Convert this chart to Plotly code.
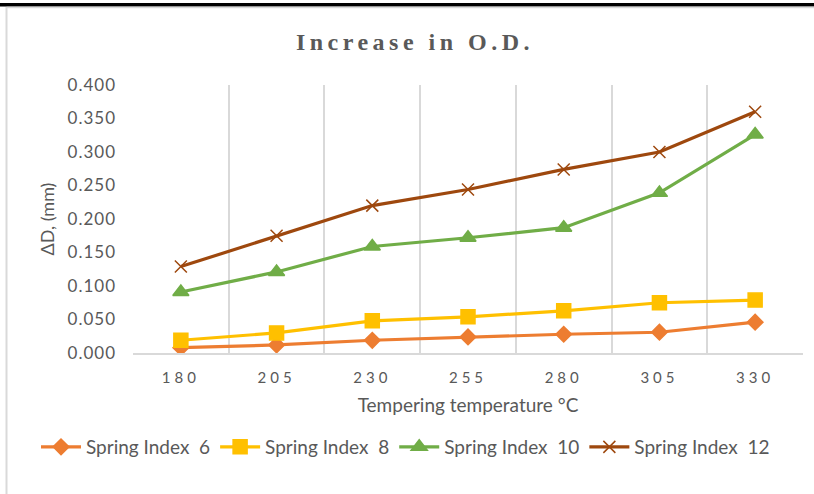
import plotly.graph_objects as go

temps = ["180", "205", "230", "255", "280", "305", "330"]
si6 = [0.008, 0.012, 0.019, 0.024, 0.028, 0.031, 0.046]
si8 = [0.019, 0.030, 0.048, 0.054, 0.063, 0.075, 0.079]
si10 = [0.091, 0.121, 0.159, 0.172, 0.187, 0.239, 0.326]
si12 = [0.129, 0.175, 0.220, 0.244, 0.274, 0.300, 0.360]
y_ticks = [0.0, 0.05, 0.1, 0.15, 0.2, 0.25, 0.3, 0.35, 0.4]

W, H = 814, 494
L, R, T, B = 133, 11, 85, 141
pw, ph = W - L - R, H - T - B

def px_x(x):
    return (x - L) / pw

def px_y(y):
    return (H - B - y) / ph

series = [
    ("Spring Index  6", si6, "#ED7D31", "diamond", 12),
    ("Spring Index  8", si8, "#FFC000", "square", 14),
    ("Spring Index  10", si10, "#70AD47", "triangle-up", 14),
    ("Spring Index  12", si12, "#9E480E", "x-thin-open", 12),
]

fig = go.Figure()
for name, vals, col, sym, sz in series:
    fig.add_trace(go.Scatter(
        x=temps, y=vals, name=name, mode="lines+markers",
        line=dict(color=col, width=3.2),
        marker=dict(symbol=sym, size=sz, color=col, line=dict(color=col, width=1.5)),
    ))

font_main = "Lato, 'Open Sans', sans-serif"
grey = "#595959"

def spaced(t, sp):
    return '<span style="letter-spacing:%spx">%s</span>' % (sp, t)

fig.update_layout(
    width=W, height=H,
    margin=dict(l=L, r=R, t=T, b=B, autoexpand=False),
    paper_bgcolor="white", plot_bgcolor="white",
    title=dict(
        text=spaced("Increase in O.D.", 4.5),
        x=415 / W, xanchor="center", y=1 - 42 / H, yanchor="middle",
        font=dict(family="'Liberation Serif', serif", size=24, color=grey, weight="bold"),
    ),
    font=dict(family=font_main, color=grey, size=15),
    legend=dict(
        orientation="h", x=px_x(36), xanchor="left",
        y=px_y(447), yanchor="middle",
        font=dict(size=19, color=grey), itemwidth=40,
        tracegroupgap=0, itemsizing="trace",
    ),
    showlegend=True,
)
fig.update_xaxes(
    type="category", tickson="boundaries", range=[-0.5, len(temps) - 0.5],
    tickvals=temps, ticktext=[spaced(t, 4) for t in temps],
    showgrid=True, gridcolor="#D9D9D9", gridwidth=1.5,
    showline=True, linecolor="#D9D9D9", linewidth=1.5,
    ticks="", ticklabelstandoff=10,
    tickfont=dict(size=15, color=grey),
    title=dict(text="Tempering temperature °C", font=dict(size=19, color=grey), standoff=14),
    zeroline=False,
)
fig.update_yaxes(
    range=[0, 0.4], tickvals=y_ticks,
    ticktext=[spaced("%.3f" % v, 1) for v in y_ticks],
    showgrid=False, zeroline=False, showline=False,
    ticks="", ticklabelstandoff=16,
    tickfont=dict(size=17, color=grey),
    title=dict(text="ΔD, (mm)", font=dict(size=18, color=grey), standoff=8),
)

# document frame decoration: black rule at top and light chart border
fig.add_shape(type="rect", xref="paper", yref="paper",
              x0=px_x(0), x1=px_x(W), y0=px_y(6.5), y1=px_y(3),
              fillcolor="black", line=dict(width=0), layer="above")
fig.add_shape(type="line", xref="paper", yref="paper",
              x0=px_x(6.5), x1=px_x(W), y0=px_y(7.5), y1=px_y(7.5),
              line=dict(color="#D9D9D9", width=1.5))
fig.add_shape(type="line", xref="paper", yref="paper",
              x0=px_x(6.5), x1=px_x(6.5), y0=px_y(7), y1=px_y(H),
              line=dict(color="#D9D9D9", width=2))

fig.write_html("out.html", config={"displayModeBar": False},
               post_script="document.body.style.margin='0';")
